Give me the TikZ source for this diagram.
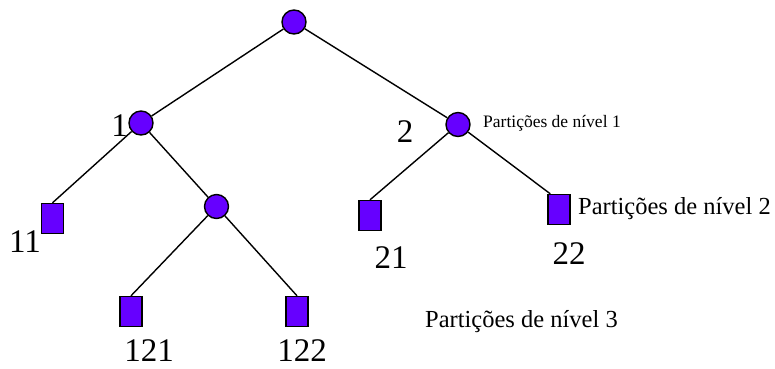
\documentclass[tikz,border=0pt]{standalone}
\usepackage{fontspec}
\usetikzlibrary{calc}
\setmainfont{Liberation Serif}
\definecolor{vio}{RGB}{102,0,255}
\begin{document}
\begin{tikzpicture}[x=1pt,y=-1pt,
  circ/.style={circle,draw=black,fill=vio,line width=1.4pt,minimum size=24pt,inner sep=0pt},
  sq/.style={rectangle,draw=black,fill=vio,line width=1.4pt,minimum width=22pt,minimum height=30pt,inner sep=0pt},
  edge/.style={draw=black,line width=1.4pt},
  num/.style={font=\fontsize{33}{33}\selectfont,inner sep=0pt,anchor=base},
  lvl/.style={font=\fontsize{24.5}{24.5}\selectfont,inner sep=0pt,anchor=base west},
  lvlsmall/.style={font=\fontsize{17.5}{17.5}\selectfont,inner sep=0pt,anchor=base west}]
\useasboundingbox (0,0) rectangle (775,368);
% nodes
\node[circ] (root) at (294,22) {};
\node[circ] (n1) at (141,123) {};
\node[circ] (n2) at (458,124.5) {};
\node[circ] (n12) at (216.5,206.5) {};
\node[sq] (s11) at (52.5,218.5) {};
\node[sq] (s21) at (370,215.5) {};
\node[sq] (s22) at (559,209.5) {};
\node[sq] (s121) at (131,311.5) {};
\node[sq] (s122) at (297,311.5) {};
% edges
\draw[edge] (root) -- (n1);
\draw[edge] (root) -- (n2);
\draw[edge] (n1) -- (s11.north);
\draw[edge] (n1) -- (n12);
\draw[edge] (n2) -- (s21.north);
\draw[edge] (n2) -- ($(s22.north west)+(3,0)$);
\draw[edge] (n12) -- (s121.north);
\draw[edge] (n12) -- (s122.north);
% labels
\node[num] (l1) at (119.5,136) {1};
\node[num] (l2) at (405,142) {2};
\node[num] (l11) at (25,252.5) {11};
\node[num] (l21) at (391,268.5) {21};
\node[num] (l22) at (569,264.5) {22};
\node[num] (l121) at (149,361) {121};
\node[num] (l122) at (302,361) {122};
\node[lvlsmall] (t1) at (483,127) {Partições de nível 1};
\node[lvl] (t2) at (578,214.5) {Partições de nível 2};
\node[lvl] (t3) at (425,327.5) {Partições de nível 3};
\end{tikzpicture}
\end{document}
